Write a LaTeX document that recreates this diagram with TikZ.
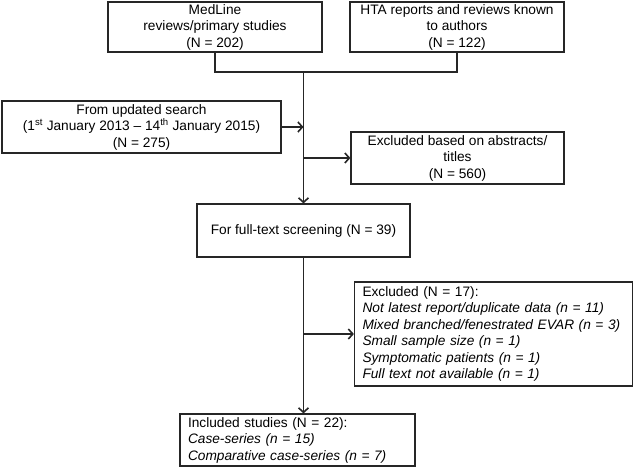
\documentclass[tikz,border=0pt]{standalone}
\usepackage{fontspec}
\setmainfont{Liberation Sans}
\usetikzlibrary{arrows.meta}
\begin{document}
\begin{tikzpicture}[x=1pt,y=-1pt,
  every node/.style={font=\fontsize{13.7}{16.5}\selectfont},
  cbox/.style={draw=black!85,line width=1.2pt,align=center,inner sep=2pt},
  lbox/.style={draw=black!85,line width=1.2pt,align=left,inner xsep=8pt,inner ysep=2pt},
  conn/.style={draw=black!85,line width=1.2pt},
  arr/.style={conn,-{Straight Barb[length=4.5pt,width=10pt,line width=1.6pt]}}]
\useasboundingbox (0,0) rectangle (635,469);
\node[cbox,minimum width=214pt,minimum height=50pt] (med) at (215,27) {MedLine\\reviews/primary studies\\(N = 202)};
\node[cbox,minimum width=214pt,minimum height=50pt] (hta) at (457,27) {HTA reports and reviews known\\to authors\\(N = 122)};
\node[cbox,minimum width=279pt,minimum height=52pt] (upd) at (141.5,127) {From updated search\\(1\textsuperscript{st} January 2013 -- 14\textsuperscript{th} January 2015)\\(N = 275)};
\node[cbox,minimum width=213pt,minimum height=52pt] (exa) at (457.5,158) {Excluded based on abstracts/\\titles\\(N = 560)};
\node[cbox,minimum width=213pt,minimum height=53pt] (ft) at (303.5,230.5) {For full-text screening (N = 39)};
\node[lbox,text width=262pt,minimum height=104pt] (exc) at (493.5,334) {Excluded (N = 17):\\\textit{Not latest report/duplicate data (n = 11)}\\\textit{Mixed branched/fenestrated EVAR (n = 3)}\\\textit{Small sample size (n = 1)}\\\textit{Symptomatic patients (n = 1)}\\\textit{Full text not available (n = 1)}};
\node[lbox,text width=219pt,minimum height=52pt] (inc) at (297.5,440) {Included studies (N = 22):\\\textit{Case-series (n = 15)}\\\textit{Comparative case-series (n = 7)}};
\coordinate (j) at (303.5,72);
\draw[conn] (med.south) |- (j) -| (hta.south);
\draw[arr] (j) -- (ft.north);
\draw[arr] (upd.east) -- (upd.east -| j);
\draw[arr] (exa.west -| j) -- (exa.west);
\draw[arr] (ft.south) -- (ft.south |- inc.north);
\draw[arr] (exc.west -| ft.south) -- (exc.west);
\end{tikzpicture}
\end{document}
